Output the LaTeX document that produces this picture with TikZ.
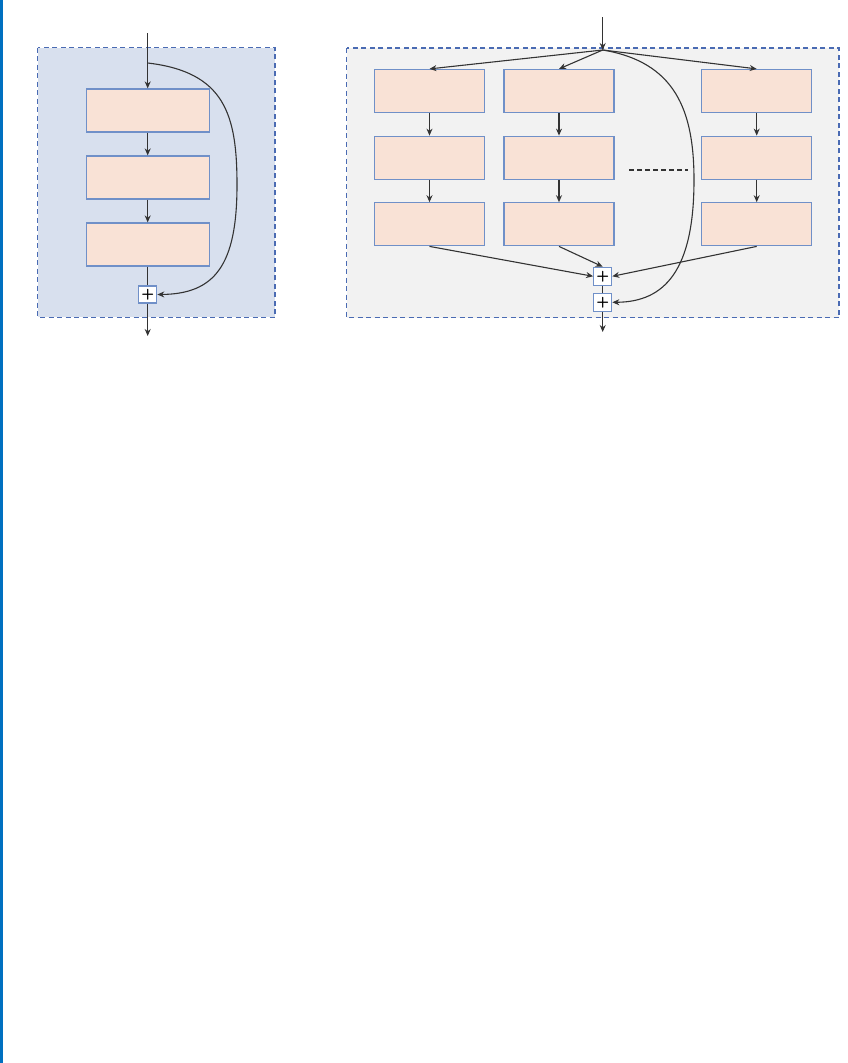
\documentclass[tikz,border=0pt]{standalone}
\usetikzlibrary{arrows.meta}
\definecolor{panelblue}{HTML}{D8E0EE}
\definecolor{panelgray}{HTML}{F2F2F2}
\definecolor{dashblue}{HTML}{4A6BB3}
\definecolor{boxfill}{HTML}{F9E2D6}
\definecolor{boxline}{HTML}{7090C8}
\definecolor{barblue}{HTML}{0070C0}
\definecolor{conn}{HTML}{333333}
\tikzset{
  panel/.style={draw=dashblue, line width=1.4pt, dash pattern=on 5pt off 3.5pt},
  layerbox/.style={draw=boxline, fill=boxfill, line width=1.2pt, minimum height=43pt, inner sep=0pt},
  leftbox/.style={layerbox, minimum width=123pt},
  rightbox/.style={layerbox, minimum width=110pt},
  plusbox/.style={draw=boxline, fill=white, line width=1.2pt, minimum width=18pt, minimum height=18pt, inner sep=0pt, font=\sffamily\bfseries\fontsize{15}{15}\selectfont},
  conn/.style={draw=conn, line width=1.1pt},
  arr/.style={conn, -{Stealth[length=7pt,width=6pt]}},
  ellipsis/.style={draw=conn, line width=1.4pt, dash pattern=on 5pt off 3pt}
}
\begin{document}
\begin{tikzpicture}[x=1pt,y=-1pt]
\useasboundingbox (0,0) rectangle (848,1063);
\fill[white] (0,0) rectangle (848,1063);
\fill[barblue] (0,0) rectangle (2.6,1063);

% ---------- left panel ----------
\filldraw[panel, fill=panelblue] (37.7,47.7) rectangle (275,317.3);
\node[leftbox] (L1) at (147.7,110.5) {};
\node[leftbox] (L2) at (147.7,177.5) {};
\node[leftbox] (L3) at (147.7,244.5) {};
\node[plusbox, minimum height=17pt] (LP) at (147.7,294.5) {+};
\coordinate (Lin) at (147.7,33);
\coordinate (Lsplit) at (147.7,63);
\coordinate (Lout) at (147.7,336);
\draw[arr] (Lin) -- (L1.north);
\draw[arr] (L1) -- (L2);
\draw[arr] (L2) -- (L3);
\draw[conn] (L3) -- (LP);
\draw[arr] (LP) -- (Lout);
\draw[arr] (Lsplit) .. controls (225,72) and (237,115) .. (237,185)
  .. controls (237,265) and (215,294) .. (LP.east);

% ---------- right panel ----------
\filldraw[panel, fill=panelgray] (346.7,48) rectangle (839,317.7);
\foreach \c/\x in {A/429.5,B/559,C/756.7}{
  \node[rightbox] (\c1) at (\x,91) {};
  \node[rightbox] (\c2) at (\x,157.7) {};
  \node[rightbox] (\c3) at (\x,224.3) {};
  \draw[arr] (\c1) -- (\c2);
  \draw[arr] (\c2) -- (\c3);
}
\node[plusbox] (P1) at (602.7,276.3) {+};
\node[plusbox] (P2) at (602.7,302.3) {+};
\coordinate (Rin) at (602.7,17);
\coordinate (Rsplit) at (602.7,50);
\coordinate (Rout) at (602.7,332);
\coordinate (D1) at (629,170);
\coordinate (D2) at (688,170);
\draw[arr] (Rin) -- (Rsplit);
\draw[arr] (Rsplit) -- (A1.north);
\draw[arr] (Rsplit) -- (B1.north);
\draw[arr] (Rsplit) -- (C1.north);
\draw[arr] (A3.south) -- (P1.west);
\draw[arr] (B3.south) -- (P1.north);
\draw[arr] (C3.south) -- (P1.east);
\draw[conn] (P1) -- (P2);
\draw[arr] (P2) -- (Rout);
\draw[arr] (Rsplit) .. controls (675,62) and (694,110) .. (694,180)
  .. controls (694,270) and (665,302) .. (P2.east);
\draw[ellipsis] (D1) -- (D2);
\end{tikzpicture}
\end{document}
